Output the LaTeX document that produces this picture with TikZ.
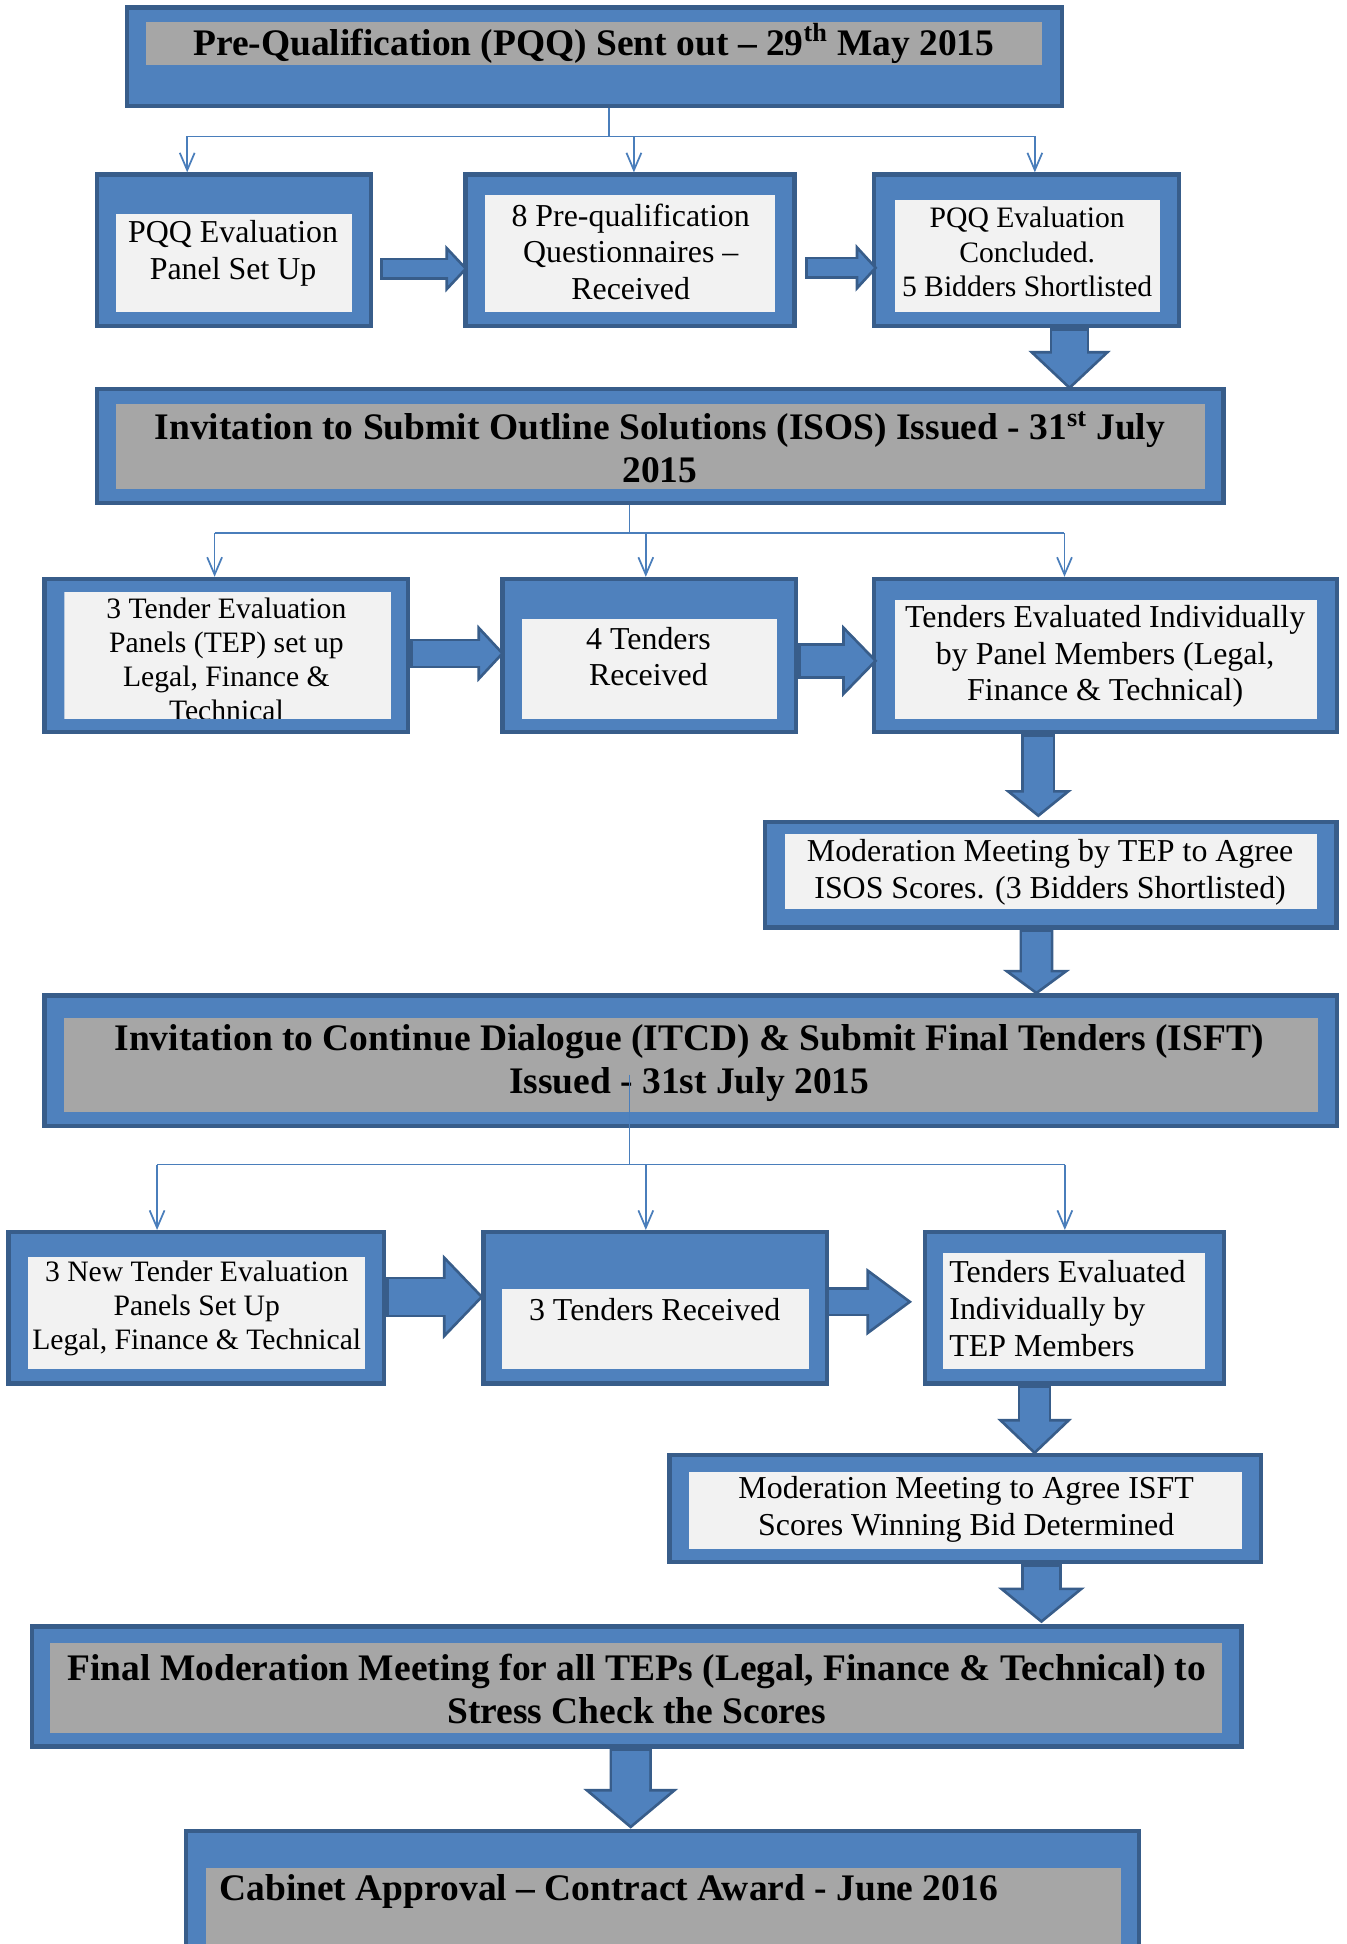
\documentclass[tikz,border=0pt]{standalone}
\usepackage{fontspec}
\setmainfont{Liberation Serif}
\usepackage{tikz}
\usetikzlibrary{arrows.meta,fit}
\definecolor{boxblue}{HTML}{4F81BD}
\definecolor{boxedge}{HTML}{385D8A}
\definecolor{feedblue}{HTML}{4A7EBB}
\definecolor{paneltint}{HTML}{F2F2F2}
\definecolor{titletint}{HTML}{A6A6A6}

\begin{document}
\begin{tikzpicture}[
    x=0.025cm, y=-0.025cm,
    stagebox/.style={draw=boxedge, fill=boxblue, line width=2.5pt, inner sep=0pt},
    panel/.style={fill=paneltint, inner sep=0pt},
    titlepanel/.style={fill=titletint, inner sep=0pt},
    body/.style={align=center, inner sep=0pt, font=\fontsize{18.3}{21}\selectfont},
    smallbody/.style={body, font=\fontsize{17}{19.6}\selectfont},
    headline/.style={align=center, inner sep=0pt, font=\fontsize{21.5}{24.5}\selectfont\bfseries},
    bus/.style={draw=feedblue, line width=1pt},
    feed/.style={bus, -{Straight Barb[length=0.35cm, width=0.3cm]}},
    flow/.style n args={3}{draw=boxblue, line width=#1-3pt, shorten <=1.5pt,
        -{Triangle[length=#3, width=#2, line width=1.5pt, color=boxedge, fill=boxblue]},
        preaction={draw=boxedge, line width=#1, shorten <=0pt, shorten >=0.7*#3, -},
        postaction={draw=boxblue, line width=#1-3pt, shorten <=1.5pt, shorten >=#3-2.5pt, -}},
]
    \useasboundingbox (0,0) rectangle (1086,1568);

    % PQQ stage
    \node[stagebox, fit={(102.5,6) (856.6,85.5)}] (pqq) {};
    \node[titlepanel, fit={(117.8,17.7) (840.3,52.2)}] (pqqin) {};
    \node[headline] (pqqtxt) at (479,35) {Pre-Qualification (PQQ) Sent out -- 29\textsuperscript{th} May 2015};

    \node[stagebox, fit={(78.3,140.8) (299.3,262.8)}] (b1) {};
    \node[panel, fit={(93.5,172.5) (283.9,251.3)}] (b1in) {};
    \node[body] (b1txt) at (188,204.3) {PQQ Evaluation\\Panel Set Up};

    \node[stagebox, fit={(375.5,140.8) (640.7,262.8)}] (b2) {};
    \node[panel, fit={(391.4,157.2) (625.5,251.3)}] (b2in) {};
    \node[body] (b2txt) at (508.7,203) {8 Pre-qualification\\Questionnaires --\\Received};

    \node[stagebox, fit={(705.2,140.8) (951.1,262.8)}] (b3) {};
    \node[panel, fit={(721.8,161.3) (935.9,251.3)}] (b3in) {};
    \node[smallbody] (b3txt) at (828.5,203.2) {PQQ Evaluation\\Concluded.\\5 Bidders Shortlisted};

    % ISOS stage
    \node[stagebox, fit={(78.3,313.9) (986.9,405.8)}] (isos) {};
    \node[titlepanel, fit={(93.5,325.7) (971.9,394.3)}] (isosin) {};
    \node[headline] (isostxt) at (532.3,360.8) {Invitation to Submit Outline Solutions (ISOS) Issued - 31\textsuperscript{st} July\\2015};

    \node[stagebox, fit={(36,467) (329,590.5)}] (c1) {};
    \begin{scope}
        \clip (51.9,477.8) rectangle (315.2,579.7);
        \node[panel, fit={(51.9,477.8) (315.2,579.7)}] (c1in) {};
        \node[smallbody] (c1txt) at (182.6,532) {3 Tender Evaluation\\Panels (TEP) set up\\Legal, Finance \&\\Technical};
    \end{scope}

    \node[stagebox, fit={(405.2,467) (642.1,590.5)}] (c2) {};
    \node[panel, fit={(421.1,499) (626.8,579.7)}] (c2in) {};
    \node[body] (c2txt) at (523,529.5) {4 Tenders\\Received};

    \node[stagebox, fit={(705.2,467) (1078.4,590.5)}] (c3) {};
    \node[panel, fit={(721.8,484.3) (1061.9,579.7)}] (c3in) {};
    \node[body] (c3txt) at (891.4,529.5) {Tenders Evaluated Individually\\by Panel Members (Legal,\\Finance \& Technical)};

    \node[stagebox, fit={(617,663) (1078,748)}] (d) {};
    \node[panel, fit={(633,673) (1062,733)}] (din) {};
    \node[body] (dtxt) at (847,703.5) {Moderation Meeting by TEP to Agree\\ISOS Scores. (3 Bidders Shortlisted)};

    % ITCD / ISFT stage
    \node[stagebox, fit={(36,803) (1078.4,908.4)}] (e) {};
    \node[titlepanel, fit={(51.9,821) (1063.3,897)}] (ein) {};
    \node[headline] (etxt) at (555.9,857.3) {Invitation to Continue Dialogue (ITCD) \& Submit Final Tenders (ISFT)\\Issued - 31st July 2015};

    \node[stagebox, fit={(7,993.8) (309.6,1115.9)}] (f1) {};
    \node[panel, fit={(22.9,1014) (294.4,1104.6)}] (f1in) {};
    \node[smallbody] (f1txt) at (158.7,1055.5) {3 New Tender Evaluation\\Panels Set Up\\Legal, Finance \& Technical};

    \node[stagebox, fit={(390,993.8) (667,1115.9)}] (f2) {};
    \node[panel, fit={(405.2,1040) (652.5,1104.6)}] (f2in) {};
    \node[body] (f2txt) at (528,1056.2) {3 Tenders Received};

    \node[stagebox, fit={(746,993.8) (987.1,1115.9)}] (f3) {};
    \node[panel, fit={(760.7,1010.5) (971.9,1104.6)}] (f3in) {};
    \node[body, align=left, anchor=west] (f3txt) at (765.5,1055.5) {Tenders Evaluated\\Individually by\\TEP Members};

    \node[stagebox, fit={(540,1173.6) (1017,1259.8)}] (g) {};
    \node[panel, fit={(556,1187) (1002,1249.7)}] (gin) {};
    \node[body] (gtxt) at (779.3,1217.5) {Moderation Meeting to Agree ISFT\\Scores Winning Bid Determined};

    % final stages
    \node[stagebox, fit={(25.6,1312) (1001.5,1408.6)}] (h) {};
    \node[titlepanel, fit={(40,1325.5) (986,1398)}] (hin) {};
    \node[headline] (htxt) at (513.6,1362.5) {Final Moderation Meeting for all TEPs (Legal, Finance \& Technical) to\\Stress Check the Scores};

    \node[stagebox, fit={(150,1476.7) (918.5,1610)}] (i) {};
    \node[titlepanel, fit={(166,1507) (904,1600)}] (iin) {};
    \node[headline, anchor=west] (itxt) at (176.7,1526) {Cabinet Approval -- Contract Award - June 2016};

    % Thin feed lines
    \coordinate (j1) at (491.2,110);
    \coordinate (t1a) at (151,110);
    \coordinate (t1b) at (511.3,110);
    \coordinate (t1c) at (834.7,110);
    \draw[bus] (pqq.south -| j1) -- (j1);
    \draw[bus] (t1a) -- (t1c);
    \draw[feed] (t1a) -- (t1a |- b1.north);
    \draw[feed] (t1b) -- (t1b |- b2.north);
    \draw[feed] (t1c) -- (t1c |- b3.north);

    \coordinate (j2) at (507.8,430);
    \coordinate (t2a) at (173.1,430);
    \coordinate (t2b) at (520.9,430);
    \coordinate (t2c) at (858.6,430);
    \draw[bus] (isos.south -| j2) -- (j2);
    \draw[bus] (t2a) -- (t2c);
    \draw[feed] (t2a) -- (t2a |- c1.north);
    \draw[feed] (t2b) -- (t2b |- c2.north);
    \draw[feed] (t2c) -- (t2c |- c3.north);

    \coordinate (k3) at (507.8,866.7);
    \coordinate (j3) at (507.8,939.3);
    \coordinate (t3a) at (126.7,939.3);
    \coordinate (t3b) at (520.9,939.3);
    \coordinate (t3c) at (858.9,939.3);
    \draw[bus] (k3) -- (j3);
    \draw[bus] (t3a) -- (t3c);
    \draw[feed] (t3a) -- (t3a |- f1.north);
    \draw[feed] (t3b) -- (t3b |- f2.north);
    \draw[feed] (t3c) -- (t3c |- f3.north);

    % Block arrows along a row
    \draw[flow={0.45cm}{0.95cm}{0.45cm}] ([shift={(5.7,14.9)}]b1.east) -- ([shift={(3.5,14.9)}]b2.west);
    \draw[flow={0.45cm}{0.95cm}{0.44cm}] ([shift={(6.9,14.2)}]b2.east) -- ([shift={(4.3,14.2)}]b3.west);
    \draw[flow={0.6cm}{1.15cm}{0.54cm}] ([shift={(0,-1.75)}]c1.east) -- ([shift={(3.3,-1.75)}]c2.west);
    \draw[flow={0.72cm}{1.45cm}{0.71cm}] ([shift={(0,4.25)}]c2.east) -- ([shift={(4.3,4.25)}]c3.west);
    \draw[flow={0.82cm}{1.7cm}{0.82cm}] ([shift={(0,-8.85)}]f1.east) -- ([shift={(1.8,-8.85)}]f2.west);
    \draw[flow={0.58cm}{1.35cm}{0.92cm}] ([shift={(-2,-4.85)}]f2.east) -- ([shift={(-8.6,-4.85)}]f3.west);

    % Block arrows down to the next stage
    \draw[flow={0.8cm}{1.65cm}{0.78cm}] ([shift={(34.55,0)}]b3.south) -- ([shift={(330.1,2.1)}]isos.north);
    \draw[flow={0.68cm}{1.35cm}{0.55cm}] ([shift={(-54.3,0)}]c3.south) -- ([shift={(-10,-2)}]d.north);
    \draw[flow={0.68cm}{1.35cm}{0.5cm}] ([shift={(-11.5,0)}]d.south) -- ([shift={(278.8,1)}]e.north);
    \draw[flow={0.68cm}{1.5cm}{0.72cm}] ([shift={(-32.05,0)}]f3.south) -- ([shift={(56,1.4)}]g.north);
    \draw[flow={0.82cm}{1.75cm}{0.72cm}] ([shift={(61.5,0)}]g.south) -- ([shift={(326.45,-1)}]h.north);
    \draw[flow={0.85cm}{1.9cm}{0.8cm}] ([shift={(-4.85,0)}]h.south) -- ([shift={(-25.55,0)}]i.north);
\end{tikzpicture}
\end{document}
